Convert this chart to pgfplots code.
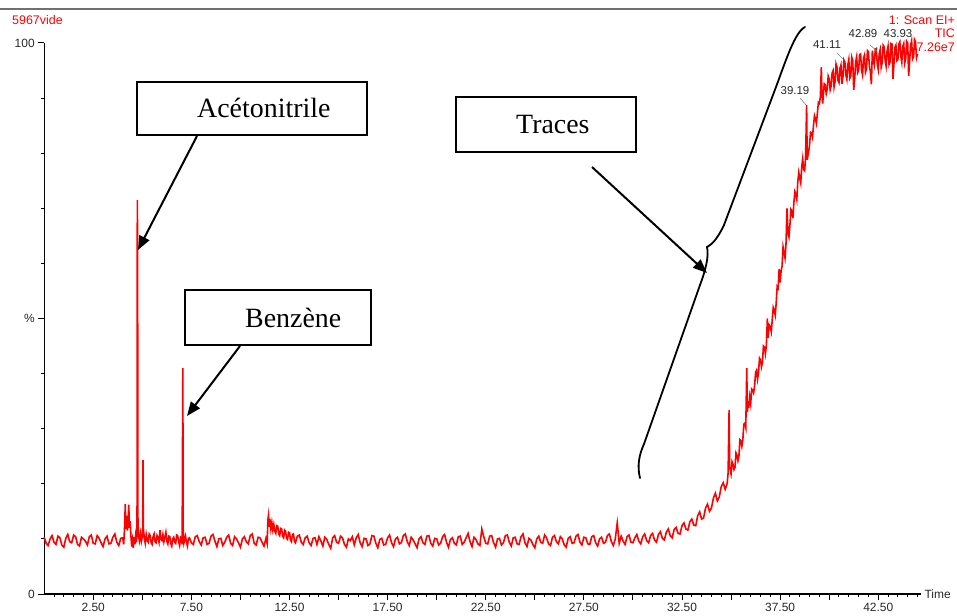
\documentclass[border=0pt]{standalone}
\usepackage{pgfplots}
\pgfplotsset{compat=1.18}
\usepackage{fontspec}
\setmainfont{Liberation Sans}
\newfontfamily\tnr{Liberation Serif}
\usetikzlibrary{arrows.meta}
\definecolor{tracered}{RGB}{255,0,0}
\definecolor{framegray}{RGB}{112,112,112}
\definecolor{labgray}{RGB}{40,40,40}
\begin{document}
\begin{tikzpicture}
\begin{scope}[x=1bp,y=1bp]
\useasboundingbox (0,0) rectangle (957,612);
\draw[framegray, line width=2.5bp] (0,603) -- (957,603);
\node[anchor=west, text=tracered, font=\fontsize{12.5}{14}\selectfont, inner sep=0] at (12,592) {5967vide};
\node[anchor=east, text=tracered, font=\fontsize{12.5}{14}\selectfont, inner sep=0] at (955,592) {1: Scan EI+};
\node[anchor=east, text=tracered, font=\fontsize{12.5}{14}\selectfont, inner sep=0] at (955,579) {TIC};
\node[anchor=east, text=tracered, font=\fontsize{12.5}{14}\selectfont, inner sep=0] at (955,565) {7.26e7};
\end{scope}
\begin{axis}[
  at={(44.2bp,18bp)}, anchor=south west,
  scale only axis, width=877.2bp, height=551bp,
  xmin=0, xmax=44.7, ymin=0, ymax=100,
  clip=false,
  axis lines=left,
  axis line style={-, line width=1.3bp, black},
  tick align=outside,
  tick style={black, line width=1bp},
  major tick length=6bp, minor tick length=3bp,
  xtick={2.5,7.5,...,42.5},
  xticklabel={\pgfmathprintnumber[fixed,fixed zerofill,precision=2,assume math mode=true]{\tick}},
  extra x ticks={5,10,...,40},
  extra x tick labels={},
  extra x tick style={major tick length=6bp},
  minor xtick={0.5,1,...,44.5},
  ytick={0,50,100},
  yticklabels={0,\%,100},
  minor ytick={10,20,30,40,60,70,80,90},
  ticklabel style={font=\fontsize{12}{14}\selectfont, text=labgray},
  /pgf/number format/assume math mode=true,
]
\addplot[tracered, line width=1.6bp, line join=miter] coordinates {
(0,10.3)(0.1,9.2)(0.2,8.8)(0.3,10.0)(0.4,10.6)(0.5,9.4)(0.6,9.0)(0.7,10.5)(0.8,10.2)(0.9,8.9)(1.0,8.5)(1.1,10.1)(1.2,10.8)(1.3,9.5)(1.4,9.3)(1.5,10.7)(1.6,10.4)(1.7,9.0)(1.8,8.7)(1.9,10.3)(2.0,10.0)(2.1,9.6)(2.2,8.9)(2.3,10.4)(2.4,10.7)(2.5,9.2)(2.6,9.1)(2.7,10.6)(2.8,10.1)(2.9,9.3)(3.0,8.6)(3.1,10.0)(3.2,10.5)(3.3,9.1)(3.4,9.2)(3.5,10.3)(3.6,10.9)(3.7,9.4)(3.8,8.8)(3.9,10.1)(4.0,10.2)
(4.05,9.0)(4.1,12.4)(4.13,16.3)(4.16,11.8)(4.2,14.2)(4.24,11.5)(4.28,13.6)(4.31,16.2)(4.34,12.0)(4.38,13.2)(4.42,10.5)(4.46,8.6)(4.5,9.8)(4.54,8.4)(4.58,10.3)(4.62,9.0)(4.66,10.6)(4.7,9.4)(4.73,11.0)(4.745,71.5)(4.76,63.5)(4.775,14.0)(4.8,10.8)(4.85,9.7)(4.9,11.0)(4.95,9.5)(5.0,10.4)(5.02,13.0)(5.035,24.3)(5.05,12.0)(5.1,10.2)(5.15,9.2)(5.2,10.8)(5.25,9.7)(5.3,9.4)(5.35,10.9)(5.4,10.6)(5.45,9.3)(5.5,9.0)(5.55,10.4)(5.6,10.9)(5.65,9.5)(5.7,9.3)(5.75,10.6)(5.8,10.2)(5.85,9.4)(5.9,11.6)(5.95,10.0)(6.0,9.7)(6.05,10.8)(6.1,9.5)(6.15,10.3)(6.2,11.2)(6.25,9.6)(6.3,9.1)(6.35,10.5)(6.4,10.4)(6.45,9.2)(6.5,8.7)(6.55,10.0)(6.6,10.3)(6.65,9.4)(6.7,9.2)(6.75,10.7)(6.8,10.6)(6.85,9.5)(6.9,8.8)(6.95,10.3)(7.0,10.1)(7.03,9.0)(7.05,28.8)(7.065,41.0)(7.08,12.0)(7.12,9.3)(7.2,10.5)(7.25,9.4)(7.3,8.7)(7.35,10.1)(7.4,10.2)(7.5,9.3)(7.6,9.0)(7.7,10.4)(7.8,10.6)(7.9,9.5)(8.0,8.9)(8.1,10.2)(8.2,10.3)(8.3,9.0)(8.4,9.2)(8.5,10.5)(8.6,10.8)(8.7,9.6)(8.8,8.6)(8.9,10.0)(9.0,10.1)(9.1,8.8)(9.2,9.4)(9.3,10.3)(9.4,10.7)(9.5,9.2)(9.6,8.8)(9.7,10.4)(9.8,10.0)(9.9,9.3)(10.0,8.5)(10.1,10.0)(10.2,10.4)(10.3,9.5)(10.4,9.1)(10.5,10.6)(10.6,10.9)(10.7,9.2)(10.8,8.9)(10.9,10.3)(11.0,10.2)(11.1,9.4)(11.2,8.7)(11.3,10.1)(11.36,9.2)(11.4,13.5)(11.43,14.3)(11.47,12.2)(11.5,13.6)(11.55,11.8)(11.6,13.0)(11.65,11.6)(11.7,12.6)(11.75,11.4)(11.8,11.0)(11.85,12.4)(11.9,12.3)(11.95,10.9)(12.0,10.6)(12.05,11.9)(12.1,11.8)(12.15,10.5)(12.2,10.2)(12.25,11.6)(12.3,11.4)(12.35,10.1)(12.4,9.9)(12.45,11.2)(12.5,11.1)(12.55,9.8)(12.6,9.5)(12.65,10.8)(12.7,10.9)(12.75,9.6)(12.8,9.3)(12.9,10.5)(13.0,10.7)(13.1,9.4)(13.2,9.0)(13.3,10.2)(13.4,10.5)(13.5,9.3)(13.6,8.8)(13.7,10.1)(13.8,10.2)(13.9,9.0)
(14.0,10.4)(14.1,9.6)(14.2,8.7)(14.3,10.3)(14.4,9.9)(14.5,9.0)(14.6,8.3)(14.7,10.2)(14.8,10.6)(14.9,9.4)(15.0,9.2)(15.1,10.5)(15.2,10.2)(15.3,9.0)(15.4,8.5)(15.5,10.0)(15.6,9.7)(15.7,10.4)(15.8,8.9)(15.9,10.2)(16.0,10.8)(16.1,9.3)(16.2,8.6)(16.3,10.1)(16.4,10.0)(16.5,8.8)(16.6,9.1)(16.7,10.6)(16.8,10.5)(16.9,9.2)(17.0,8.4)(17.1,9.9)(17.2,10.1)(17.3,8.9)
(17.4,9.0)(17.5,10.2)(17.6,10.7)(17.7,9.3)(17.8,8.6)(17.9,10.0)(18.0,10.3)(18.1,9.1)(18.2,9.3)(18.3,10.6)(18.4,10.9)(18.5,9.5)(18.6,8.8)(18.7,10.3)(18.8,9.8)(18.9,9.1)(19.0,8.4)(19.1,10.0)(19.2,10.4)(19.3,9.3)(19.4,9.0)(19.5,10.5)(19.6,10.6)(19.7,9.2)(19.8,8.7)(19.9,10.1)(20.0,10.0)(20.1,8.9)(20.2,9.2)(20.3,10.4)(20.4,10.8)(20.5,9.4)(20.6,8.5)(20.7,9.9)
(20.8,10.2)(20.9,9.2)(21.0,8.9)(21.1,10.4)(21.2,10.5)(21.3,9.0)(21.4,9.4)(21.5,10.2)(21.6,11.0)(21.7,9.5)(21.8,8.6)(21.9,10.3)(22.0,9.9)(22.1,9.1)(22.2,8.8)(22.3,11.8)(22.4,10.4)(22.5,9.2)(22.6,9.1)(22.7,10.5)(22.8,10.6)(22.9,9.3)(23.0,8.5)(23.1,10.0)(23.2,10.1)(23.3,8.9)(23.4,9.3)(23.5,10.6)(23.6,10.7)(23.7,9.4)(23.8,8.7)(23.9,10.2)
(24.0,10.3)(24.1,9.1)(24.2,9.0)(24.3,10.4)(24.4,10.9)(24.5,9.3)(24.6,8.6)(24.7,10.1)(24.8,9.8)(24.9,9.0)(25.0,8.4)(25.1,10.0)(25.2,10.5)(25.3,9.4)(25.4,9.2)(25.5,10.7)(25.6,10.2)(25.7,9.1)(25.8,8.8)(25.9,10.3)(26.0,10.6)(26.1,9.5)(26.2,9.1)(26.3,10.4)(26.4,10.0)(26.5,8.9)(26.6,8.5)(26.7,10.1)(26.8,10.4)(26.9,9.2)(27.0,9.3)(27.1,10.5)(27.2,10.8)(27.3,9.4)
(27.4,8.9)(27.5,10.3)(27.6,10.2)(27.7,9.1)(27.8,9.0)(27.9,10.4)(28.0,10.6)(28.1,9.3)(28.2,8.7)(28.3,10.0)(28.4,10.3)(28.5,9.2)(28.6,9.4)(28.7,10.6)(28.8,10.9)(28.9,9.5)(29.0,8.8)(29.1,10.0)(29.2,12.9)(29.3,9.2)(29.4,10.5)(29.5,9.6)(29.6,9.0)(29.7,10.4)(29.8,10.7)(29.9,9.4)(30.0,9.3)
(30.1,10.2)(30.2,10.8)(30.3,9.6)(30.4,9.1)(30.5,10.4)(30.6,10.9)(30.7,9.7)(30.8,9.3)(30.9,10.6)(31.0,11.0)(31.1,9.8)(31.2,9.4)(31.3,10.8)(31.4,11.3)(31.5,10.1)(31.6,9.8)(31.7,11.2)(31.8,11.8)(31.9,10.6)(32.0,10.2)(32.1,11.7)(32.2,12.1)(32.3,11.0)(32.4,10.9)(32.5,12.4)(32.6,12.9)(32.7,11.8)(32.8,11.6)(32.9,13.1)(33.0,13.6)(33.1,12.5)(33.2,12.4)(33.3,14.2)(33.4,14.9)(33.5,13.6)(33.6,13.8)(33.7,15.6)(33.8,16.3)(33.9,15.0)(34.0,15.6)(34.1,17.4)(34.2,18.3)(34.3,16.9)(34.4,17.6)(34.5,19.5)(34.6,20.2)(34.7,19.0)(34.8,20.0)
(34.85,22.0)(34.9,33.4)(34.93,23.0)(35.0,21.8)(35.05,24.0)(35.1,23.5)(35.15,22.6)(35.2,23.0)(35.25,25.6)(35.3,25.2)(35.35,24.2)(35.4,25.0)(35.45,28.0)(35.5,27.8)(35.55,26.8)(35.6,28.0)(35.65,30.8)(35.7,31.0)(35.75,30.2)(35.8,41.0)(35.83,33.0)(35.87,35.0)(35.9,33.8)(35.95,35.8)(36.0,34.5)(36.05,37.2)(36.1,37.0)(36.15,36.5)(36.2,37.8)(36.25,40.2)(36.3,40.6)(36.35,39.0)(36.4,40.2)(36.45,42.8)(36.5,42.5)(36.55,41.2)(36.6,42.0)(36.65,45.0)(36.7,44.8)(36.75,43.6)(36.8,45.2)(36.85,50.0)(36.88,46.5)(36.95,48.8)(37.0,48.5)(37.05,47.6)(37.1,49.8)(37.15,52.0)(37.2,51.5)(37.25,50.6)(37.3,52.8)(37.35,55.8)(37.4,55.5)(37.45,59.0)(37.5,56.5)(37.55,58.6)(37.6,59.5)(37.65,63.0)(37.7,62.0)(37.75,61.0)(37.8,63.5)(37.85,70.0)(37.9,65.5)(37.95,64.8)(38.0,67.0)(38.05,69.8)(38.1,69.5)(38.15,68.2)(38.2,71.0)(38.25,73.0)(38.3,72.5)(38.35,71.6)(38.4,74.8)(38.45,76.5)(38.5,75.5)(38.55,74.6)(38.6,77.5)(38.65,79.0)(38.7,77.0)(38.75,76.8)(38.8,79.5)(38.85,88.7)(38.88,78.8)(38.95,80.2)(39.0,81.5)(39.05,83.8)(39.1,83.7)(39.15,82.9)(39.2,85.0)(39.25,86.8)(39.3,86.2)(39.35,85.4)(39.4,87.3)(39.45,89.2)(39.5,89.0)(39.55,90.2)(39.6,95.6)(39.63,91.0)(39.67,89.0)(39.7,90.5)(39.75,92.6)(39.8,92.4)(39.85,90.8)(39.9,91.6)(39.95,94.0)(40.0,93.5)
(40.05,91.5)(40.1,92.2)(40.15,94.6)(40.2,95.0)(40.25,92.0)(40.3,93.0)(40.35,96.2)(40.4,95.6)(40.45,93.2)(40.5,92.8)(40.55,95.4)(40.6,96.0)(40.65,92.6)(40.7,93.8)(40.75,96.9)(40.8,96.5)(40.85,94.2)(40.9,93.4)(40.95,96.0)(41.0,97.0)(41.05,93.6)(41.1,94.0)(41.15,97.4)(41.2,96.8)(41.25,91.5)(41.3,93.5)(41.35,96.6)(41.4,97.5)(41.45,94.6)(41.5,95.0)(41.55,97.9)(41.6,98.0)(41.65,95.1)(41.7,94.2)(41.75,97.2)(41.8,97.8)(41.85,94.7)(41.9,95.3)(41.95,98.6)(42.0,98.4)(42.05,95.8)(42.1,94.8)(42.15,92.5)(42.2,98.6)(42.25,96.8)(42.3,96.0)(42.35,98.9)(42.4,99.0)(42.45,96.2)(42.5,95.2)(42.55,98.1)(42.6,98.8)(42.65,95.6)(42.7,96.4)(42.75,99.6)(42.8,99.3)(42.85,96.9)(42.9,95.8)(42.95,98.5)(43.0,99.4)(43.05,96.1)(43.1,96.6)(43.15,99.9)(43.2,99.8)(43.25,93.5)(43.3,96.2)(43.35,99.2)(43.4,99.6)(43.45,96.8)(43.5,97.0)(43.55,99.8)(43.6,100.2)(43.65,97.6)(43.7,96.5)(43.75,99.4)(43.8,99.9)(43.85,96.4)(43.9,97.2)(43.95,100.3)(44.0,100.0)(44.05,94.0)(44.1,96.8)(44.15,99.6)(44.2,100.4)(44.25,97.1)(44.3,97.5)(44.35,100.6)(44.4,100.2)(44.45,97.3)(44.5,98.0)
};
\node[anchor=west, font=\fontsize{12}{14}\selectfont, text=labgray, inner sep=0] at (axis cs:44.7,0) [xshift=3bp] {Time};
\end{axis}
\begin{scope}[x=1bp,y=1bp]
% peak labels
\node[font=\fontsize{11.5}{13}\selectfont, text=labgray, inner sep=0] at (795,521) {39.19};
\draw[gray, line width=0.6bp] (800,514) -- (806,507);
\node[font=\fontsize{11.5}{13}\selectfont, text=labgray, inner sep=0] at (827,567) {41.11};
\draw[gray, line width=0.6bp] (837,559) -- (843,553);
\node[font=\fontsize{11.5}{13}\selectfont, text=labgray, inner sep=0] at (863,578) {42.89};
\draw[gray, line width=0.6bp] (870,567) -- (877,561);
\node[font=\fontsize{11.5}{13}\selectfont, text=labgray, inner sep=0] at (898,578) {43.93};
% annotation boxes
\draw[black, line width=1.6bp, fill=white] (137,477) rectangle (367,530);
\node[anchor=base west, inner sep=0, font=\tnr\fontsize{28}{32}\selectfont] at (197,494) {Acétonitrile};
\draw[black, line width=1.6bp, fill=white] (185,267) rectangle (371,322);
\node[anchor=base west, inner sep=0, font=\tnr\fontsize{28}{32}\selectfont] at (245,284) {Benzène};
\draw[black, line width=1.6bp, fill=white] (456,460) rectangle (636,515);
\node[anchor=base west, inner sep=0, font=\tnr\fontsize{28}{32}\selectfont] at (516,478) {Traces};
% arrows
\draw[black, line width=2bp, -{Triangle[length=14bp,width=11bp]}] (197,476) -- (138,362);
\draw[black, line width=2bp, -{Triangle[length=14bp,width=11bp]}] (240,266) -- (187,196);
\draw[black, line width=2bp, -{Triangle[length=14bp,width=11bp]}] (592,445) -- (707,339);
% brace
\draw[black, line width=1.8bp, line cap=round]
 (640,134) .. controls (637,146) and (639,157) .. (644,168) -- (700,327)
 .. controls (706,343) and (709,356) .. (707,365)
 .. controls (711,367) and (717,372) .. (724,387) -- (776,525)
 .. controls (786,552) and (795,580) .. (805,585);
\end{scope}
\end{tikzpicture}
\end{document}
